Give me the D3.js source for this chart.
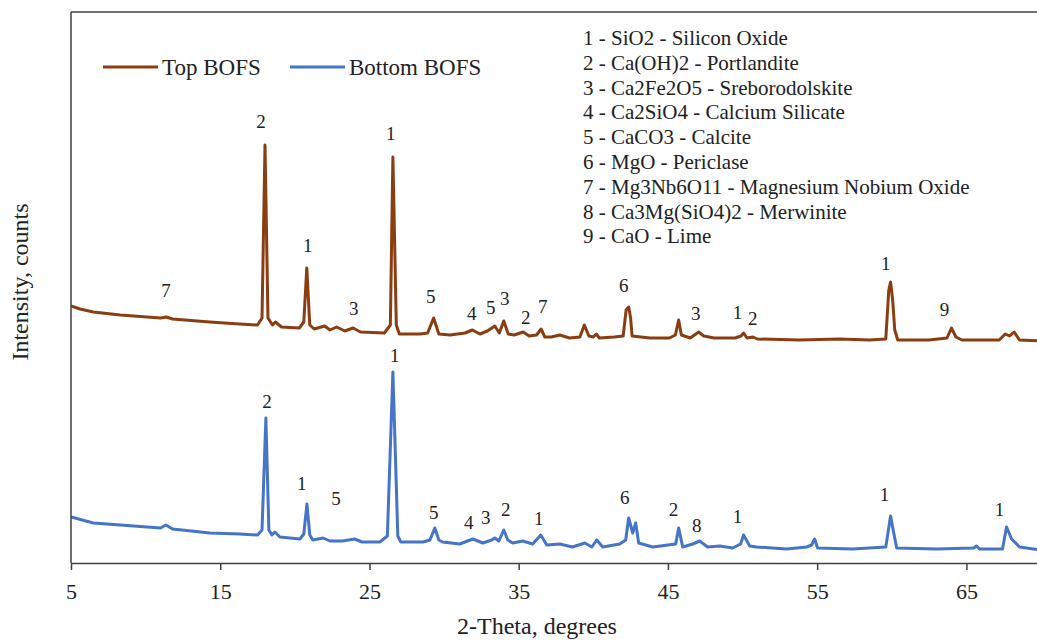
<!DOCTYPE html>
<html>
<head>
<meta charset="utf-8">
<script src="https://cdnjs.cloudflare.com/ajax/libs/d3/7.8.5/d3.min.js"></script>
<style>
  body { margin: 0; background: #fff; }
  text { font-family: "Liberation Serif", "Times New Roman", serif; fill: #222; }
</style>
</head>
<body>
<svg id="chart" width="1037" height="640"></svg>
<script>
// 2-theta positions (degrees) and intensity (counts)
var topTheta = [5.0, 5.6, 6.5, 8.3, 11.0, 11.4, 11.8, 14.3, 16.3, 17.5, 17.8, 18.0, 18.2, 18.5, 18.7, 19.1, 20.3, 20.6, 20.8, 21.0,
  21.3, 22.0, 22.35, 22.8, 23.35, 23.9, 24.4, 26.0, 26.4, 26.57, 26.8, 27.0, 28.4, 28.9, 29.3, 29.65, 30.4, 31.4, 31.9, 32.4,
  32.9, 33.4, 33.7, 34.0, 34.3, 34.7, 35.3, 35.7, 36.2, 36.5, 36.75, 37.2, 37.75, 38.4, 39.1, 39.4, 39.7, 40.0, 40.2, 40.4,
  41.4, 42.0, 42.2, 42.37, 42.5, 42.6, 43.8, 45.1, 45.5, 45.72, 45.9, 46.5, 47.06, 47.4, 48.1, 49.5, 49.9, 50.07, 50.3, 50.7,
  51.0, 53.8, 56.5, 58.5, 59.6, 59.8, 59.92, 60.06, 60.2, 60.4, 62.5, 63.7, 64.0, 64.3, 64.7, 67.2, 67.6, 67.9, 68.2, 68.56, 70];
var topCounts = [2570, 2540, 2510, 2480, 2450, 2460, 2440, 2410, 2390, 2380, 2450, 4180, 2450, 2380, 2410, 2360, 2350, 2410, 2950, 2380,
  2340, 2370, 2330, 2360, 2320, 2350, 2310, 2300, 2380, 4060, 2380, 2290, 2290, 2300, 2450, 2290, 2280, 2300, 2330, 2290,
  2320, 2370, 2300, 2420, 2290, 2280, 2310, 2270, 2280, 2340, 2260, 2260, 2280, 2250, 2260, 2380, 2270, 2260, 2290, 2250,
  2260, 2270, 2530, 2560, 2450, 2270, 2250, 2250, 2280, 2430, 2280, 2250, 2310, 2270, 2250, 2250, 2270, 2300, 2250, 2260,
  2240, 2230, 2240, 2230, 2240, 2730, 2810, 2630, 2330, 2230, 2230, 2250, 2350, 2260, 2230, 2230, 2290, 2270, 2310, 2230, 2220];

var bottomTheta = [5.0, 6.5, 8.3, 11.0, 11.36, 11.8, 14.3, 16.3, 17.5, 17.8, 18.06, 18.26, 18.46, 18.66, 19.0, 20.34, 20.6, 20.81, 21.0, 21.2,
  21.9, 22.35, 23.2, 24.0, 24.5, 25.7, 26.2, 26.57, 26.9, 27.1, 28.6, 29.05, 29.38, 29.65, 29.9, 31.05, 31.93, 32.6, 33.2, 33.4,
  33.67, 34.0, 34.27, 34.6, 35.27, 35.94, 36.48, 36.88, 37.75, 38.6, 39.43, 39.9, 40.23, 40.63, 41.77, 42.17, 42.37, 42.64, 42.84, 43.04,
  43.98, 45.52, 45.72, 45.99, 46.66, 47.13, 47.66, 48.47, 49.34, 49.87, 50.07, 50.48, 50.95, 52.96, 54.3, 54.63, 54.83, 55.03, 57.38, 59.6,
  59.92, 60.12, 60.33, 63.0, 65.48, 65.68, 65.88, 67.42, 67.69, 68.03, 68.56, 70];
var bottomCounts = [460, 400, 380, 350, 380, 340, 300, 290, 280, 330, 1450, 330, 280, 310, 260, 240, 290, 590, 280, 230,
  250, 220, 220, 240, 210, 210, 270, 1910, 270, 210, 210, 230, 350, 230, 210, 190, 240, 200, 230, 250,
  220, 330, 230, 200, 220, 190, 280, 180, 190, 160, 200, 160, 230, 160, 190, 230, 450, 300, 400, 200,
  160, 190, 350, 160, 190, 220, 160, 170, 150, 190, 280, 170, 160, 140, 160, 180, 240, 150, 140, 160,
  470, 310, 150, 140, 150, 170, 140, 140, 360, 240, 160, 130];

// phase numbers written above the peaks: [theta, counts, label]
var topPeakLabels = [[11.36, 2730, "7"], [17.73, 4420, "2"], [20.87, 3180, "1"], [23.95, 2550, "3"], [26.43, 4300, "1"],
  [29.11, 2670, "5"], [31.86, 2500, "4"], [33.13, 2560, "5"], [34.07, 2650, "3"], [35.47, 2460, "2"], [36.61, 2570, "7"],
  [42.04, 2780, "6"], [46.86, 2500, "3"], [49.67, 2510, "1"], [50.68, 2450, "2"], [59.59, 3000, "1"], [63.54, 2540, "9"]];
var bottomPeakLabels = [[18.13, 1620, "2"], [20.47, 800, "1"], [22.75, 650, "5"], [26.7, 2080, "1"], [29.31, 510, "5"],
  [31.66, 410, "4"], [32.8, 460, "3"], [34.14, 540, "2"], [36.35, 450, "1"], [42.1, 660, "6"], [45.38, 540, "2"],
  [46.93, 380, "8"], [49.67, 470, "1"], [59.52, 690, "1"], [67.22, 540, "1"]];

var phaseKey = ["1 - SiO2 - Silicon Oxide", "2 - Ca(OH)2 - Portlandite", "3 - Ca2Fe2O5 - Sreborodolskite",
  "4 - Ca2SiO4 - Calcium Silicate", "5 - CaCO3 - Calcite", "6 - MgO - Periclase",
  "7 - Mg3Nb6O11 - Magnesium Nobium Oxide", "8 - Ca3Mg(SiO4)2 - Merwinite", "9 - CaO - Lime"];
var seriesNames = ["Top BOFS", "Bottom BOFS"];
var xTicks = [5, 15, 25, 35, 45, 55, 65];

var brown = "#8b3d12", blue = "#4674c8", axisCol = "#404040";

var svg = d3.select("#chart");
var plotLeft = 71, plotTop = 12, plotBottom = 563, plotRight = 1041;

var x = d3.scaleLinear().domain([5, 70]).range([plotLeft, plotRight]);
var y = d3.scaleLinear().domain([0, 5510]).range([plotBottom, plotTop]);

function pts(th, ct) {
  return th.map(function(t, i) { return [t, ct[i]]; });
}

var line = d3.line()
  .x(function(d) { return x(d[0]); })
  .y(function(d) { return y(d[1]); });

svg.append("clipPath").attr("id", "clip")
  .append("rect").attr("x", plotLeft).attr("y", plotTop)
  .attr("width", plotRight - plotLeft).attr("height", plotBottom - plotTop);

var plot = svg.append("g").attr("clip-path", "url(#clip)");

plot.append("path")
  .datum(pts(topTheta, topCounts))
  .attr("d", line)
  .style("fill", "none")
  .style("stroke", brown)
  .style("stroke-width", 3)
  .style("stroke-linejoin", "round");

plot.append("path")
  .datum(pts(bottomTheta, bottomCounts))
  .attr("d", line)
  .style("fill", "none")
  .style("stroke", blue)
  .style("stroke-width", 3)
  .style("stroke-linejoin", "round");

// peak numbers
svg.append("g").selectAll("text")
  .data(topPeakLabels.concat(bottomPeakLabels))
  .enter().append("text")
  .attr("x", function(d) { return x(d[0]); })
  .attr("y", function(d) { return y(d[1]); })
  .attr("dy", "0.35em")
  .attr("text-anchor", "middle")
  .style("font-size", "19px")
  .text(function(d) { return d[2]; });

// frame: top and left
svg.append("line").attr("x1", plotLeft).attr("x2", 1037).attr("y1", plotTop).attr("y2", plotTop)
  .style("stroke", axisCol).style("stroke-width", 1.5);
svg.append("line").attr("x1", plotLeft).attr("x2", plotLeft).attr("y1", plotTop).attr("y2", plotBottom)
  .style("stroke", axisCol).style("stroke-width", 1.5);

// x axis
var xAxis = svg.append("g")
  .attr("transform", "translate(0," + plotBottom + ")")
  .call(d3.axisBottom(x).tickValues(xTicks).tickSize(7).tickPadding(13).tickSizeOuter(0));
xAxis.select(".domain").style("stroke", axisCol).style("stroke-width", 1.5);
xAxis.selectAll(".tick line").style("stroke", axisCol).style("stroke-width", 1.5);
xAxis.selectAll(".tick text")
  .style("font-family", "Liberation Serif, serif")
  .style("font-size", "22px")
  .style("fill", "#222");

svg.append("text")
  .attr("x", 537).attr("y", 634)
  .attr("text-anchor", "middle")
  .style("font-size", "24px")
  .text("2-Theta, degrees");

svg.append("text")
  .attr("transform", "translate(28,282) rotate(-90)")
  .attr("text-anchor", "middle")
  .style("font-size", "24px")
  .text("Intensity, counts");

// legend
var legendX = [103, 290];
var legendCols = [brown, blue];
seriesNames.forEach(function(name, i) {
  svg.append("line")
    .attr("x1", legendX[i]).attr("x2", legendX[i] + 55)
    .attr("y1", 67).attr("y2", 67)
    .style("stroke", legendCols[i]).style("stroke-width", 3);
  svg.append("text")
    .attr("x", legendX[i] + 59).attr("y", 75)
    .style("font-size", "23px")
    .text(name);
});

// phase key
svg.append("g").selectAll("text")
  .data(phaseKey)
  .enter().append("text")
  .attr("x", 583)
  .attr("y", function(d, i) { return 45 + i * 24.8; })
  .style("font-size", "21px")
  .text(function(d) { return d; });
</script>
</body>
</html>
